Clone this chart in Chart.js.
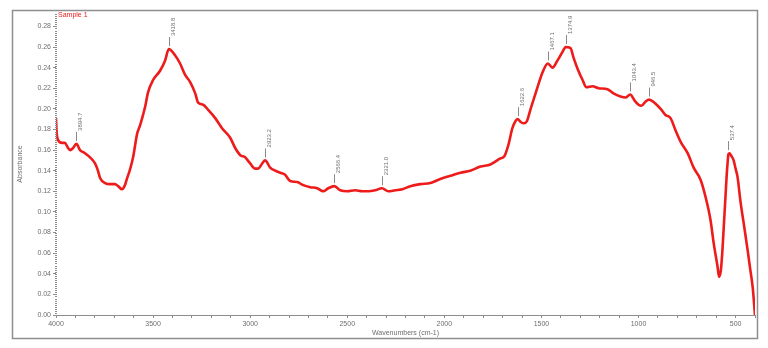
<!DOCTYPE html>
<html>
<head>
<meta charset="utf-8">
<script src="https://cdn.jsdelivr.net/npm/chart.js@4.4.1/dist/chart.umd.min.js"></script>
<style>
  html, body { margin: 0; padding: 0; background: #fff; }
  canvas { display: block; }
</style>
</head>
<body>
<canvas id="irChart" width="768" height="348"></canvas>
<script>
// espectro IR
const wavenumbers = [
  4000, 3997, 3990, 3969, 3954, 3938, 3928, 3912, 3895, 3876, 3851, 3825, 3799, 3784, 3773,
  3747, 3722, 3696, 3680, 3660, 3645, 3635, 3619, 3603, 3582, 3567, 3541, 3526, 3500, 3464,
  3438, 3419, 3387, 3361, 3335, 3309, 3283, 3268, 3242, 3216, 3180, 3144, 3103, 3077, 3051,
  3026, 3000, 2974, 2959, 2938, 2923, 2897, 2871, 2845, 2820, 2794, 2758, 2727, 2691, 2655,
  2624, 2598, 2566, 2536, 2500, 2459, 2423, 2392, 2356, 2321, 2289, 2253, 2216, 2175, 2124,
  2072, 2021, 1969, 1917, 1866, 1814, 1763, 1711, 1691, 1670, 1650, 1634, 1623, 1605, 1590,
  1575, 1557, 1520, 1495, 1467, 1443, 1417, 1392, 1375, 1350, 1335, 1314, 1288, 1268, 1237,
  1206, 1160, 1129, 1093, 1065, 1043, 1020, 1000, 985, 964, 946, 925, 912, 886, 861,
  835, 809, 783, 747, 716, 680, 654, 629, 613, 593, 585, 576, 568, 561, 552,
  546, 541, 537, 531, 524, 510, 500, 490, 474, 455, 438, 425, 412, 400
];
const absorbance = [
  0.191, 0.178, 0.170, 0.167, 0.167, 0.162, 0.160, 0.162, 0.166, 0.160, 0.157, 0.153, 0.147, 0.140, 0.133,
  0.128, 0.127, 0.127, 0.125, 0.122, 0.126, 0.132, 0.141, 0.153, 0.176, 0.184, 0.202, 0.216, 0.228, 0.237,
  0.247, 0.258, 0.252, 0.244, 0.233, 0.226, 0.215, 0.206, 0.204, 0.199, 0.191, 0.181, 0.172, 0.162, 0.155,
  0.153, 0.147, 0.142, 0.142, 0.147, 0.150, 0.143, 0.140, 0.138, 0.136, 0.130, 0.129, 0.126, 0.124, 0.123,
  0.120, 0.123, 0.125, 0.121, 0.120, 0.121, 0.120, 0.120, 0.121, 0.123, 0.120, 0.121, 0.122, 0.125, 0.127,
  0.128, 0.132, 0.135, 0.138, 0.140, 0.144, 0.146, 0.152, 0.154, 0.165, 0.181, 0.188, 0.190, 0.187, 0.186,
  0.188, 0.199, 0.221, 0.235, 0.244, 0.240, 0.247, 0.255, 0.260, 0.259, 0.250, 0.239, 0.228, 0.221, 0.222,
  0.220, 0.219, 0.215, 0.212, 0.211, 0.214, 0.208, 0.204, 0.203, 0.207, 0.209, 0.207, 0.205, 0.200, 0.194,
  0.191, 0.179, 0.168, 0.157, 0.143, 0.131, 0.114, 0.092, 0.070, 0.047, 0.037, 0.043, 0.062, 0.085, 0.115,
  0.135, 0.148, 0.156, 0.157, 0.155, 0.150, 0.142, 0.134, 0.109, 0.085, 0.063, 0.045, 0.027, 0.000
];

// picos marcados
const peakWn = [3894.7, 3418.8, 2923.2, 2566.4, 2321.0, 1622.6, 1467.1, 1374.9, 1043.4, 946.5, 537.4];
const peakAbs = [0.166, 0.258, 0.150, 0.125, 0.123, 0.190, 0.244, 0.260, 0.214, 0.209, 0.157];
const peakText = ['3894.7', '3418.8', '2923.2', '2566.4', '2321.0', '1622.6', '1467.1', '1374.9', '1043.4', '946.5', '537.4'];

const sampleName = 'Sample 1';
const xTitle = 'Wavenumbers (cm-1)';
const yTitle = 'Absorbance';

const GRIS = '#8c8c8c';
const TEXTO = '#6e6e6e';
const ROJO = '#ee1b1b';
const FUENTE = '"Liberation Sans", Arial, sans-serif';

const marcoPlugin = {
  id: 'marco',
  beforeDraw(chart) {
    const ctx = chart.ctx;
    ctx.save();
    ctx.fillStyle = '#fff';
    ctx.fillRect(0, 0, chart.width, chart.height);
    ctx.strokeStyle = '#8f8f8f';
    ctx.lineWidth = 1.5;
    ctx.strokeRect(12.5, 10.5, 745, 328);
    ctx.restore();
  },
  afterDraw(chart) {
    const ctx = chart.ctx;
    const x = chart.scales.x, y = chart.scales.y;
    const area = chart.chartArea;
    ctx.save();

    // eje y punteado (subdivisiones de 0.002)
    ctx.fillStyle = GRIS;
    for (let v = 0; v <= y.max + 1e-9; v += 0.002) {
      const py = Math.round(y.getPixelForValue(v));
      ctx.fillRect(area.left - 1, py, 2, 1);
    }

    // nombre de la muestra
    ctx.fillStyle = ROJO;
    ctx.font = '7px ' + FUENTE;
    ctx.textAlign = 'left';
    ctx.textBaseline = 'middle';
    ctx.fillText(sampleName, area.left + 2, area.top + 2);

    // etiquetas de picos
    ctx.strokeStyle = '#8a8a8a';
    ctx.lineWidth = 1;
    ctx.fillStyle = TEXTO;
    ctx.font = '6px ' + FUENTE;
    peakWn.forEach((w, i) => {
      const px = Math.round(x.getPixelForValue(w)) + 0.5;
      const py = y.getPixelForValue(peakAbs[i]);
      ctx.beginPath();
      ctx.moveTo(px, py - 3);
      ctx.lineTo(px, py - 12);
      ctx.stroke();
      ctx.save();
      ctx.translate(px + 4, py - 13);
      ctx.rotate(-Math.PI / 2);
      ctx.textAlign = 'left';
      ctx.textBaseline = 'middle';
      ctx.fillText(peakText[i], 0, 0);
      ctx.restore();
    });
    ctx.restore();
  }
};

const ctx = document.getElementById('irChart').getContext('2d');
new Chart(ctx, {
  type: 'line',
  data: {
    datasets: [{
      data: wavenumbers.map((w, i) => ({ x: w, y: absorbance[i] })),
      borderColor: ROJO,
      borderWidth: 2.6,
      pointRadius: 0,
      fill: false,
      cubicInterpolationMode: 'monotone'
    }]
  },
  options: {
    responsive: false,
    animation: false,
    layout: { padding: { left: 0, right: 13, top: 13, bottom: 0 } },
    plugins: { legend: { display: false }, tooltip: { enabled: false } },
    scales: {
      x: {
        type: 'linear',
        reverse: true,
        min: 400,
        max: 4000,
        afterFit: s => { s.height = 33; },
        border: { display: true, color: GRIS, width: 1 },
        grid: { drawOnChartArea: false, drawTicks: true, tickLength: 3, tickColor: GRIS },
        ticks: {
          stepSize: 100,
          autoSkip: false,
          maxRotation: 0,
          padding: 2,
          color: TEXTO,
          font: { family: FUENTE, size: 7 },
          callback: v => (v % 500 === 0 ? String(v) : '')
        },
        title: {
          display: true, text: xTitle, color: TEXTO,
          font: { family: FUENTE, size: 7 },
          padding: { top: 0, bottom: 11 }
        }
      },
      y: {
        min: 0,
        max: 0.293,
        bounds: 'data',
        afterFit: s => { s.width = 56; },
        border: { display: false },
        grid: { drawOnChartArea: false, tickLength: 3, tickColor: GRIS },
        ticks: {
          stepSize: 0.02,
          includeBounds: false,
          padding: 2,
          color: TEXTO,
          font: { family: FUENTE, size: 7 },
          callback: v => v.toFixed(2)
        },
        title: {
          display: true, text: yTitle, color: TEXTO,
          font: { family: FUENTE, size: 7 },
          padding: { top: 16, bottom: 0 }
        }
      }
    }
  },
  plugins: [marcoPlugin]
});
</script>
</body>
</html>
